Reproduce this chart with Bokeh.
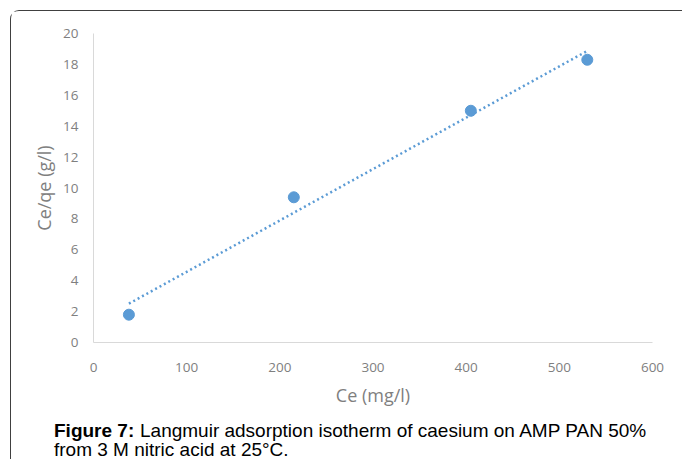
import numpy as np
from bokeh.plotting import figure
from bokeh.layouts import column, row
from bokeh.models import Range1d, FixedTicker
from bokeh.core.properties import value
from bokeh.embed import file_html
from bokeh.resources import INLINE

# data
ce = [38, 215, 405, 530]
ce_qe = [1.8, 9.4, 15.0, 18.3]
x_ticks = [0, 100, 200, 300, 400, 500, 600]
y_ticks = [0, 2, 4, 6, 8, 10, 12, 14, 16, 18, 20]
x_title = "Ce (mg/l)"
y_title = "Ce/qe (g/l)"
cap_bold = "Figure 7:"
cap_line1 = "Langmuir adsorption isotherm of caesium on AMP PAN 50%"
cap_line2 = "from 3 M nitric acid at 25°C"
cap_end = "."

BLUE = "#5B9BD5"
GRAY = "#7f7f7f"
W = 671
H = 398
X0, Y0 = 11.5, 11.5   # page position of the layout content

p = figure(width=W, height=H, output_backend="svg", toolbar_location=None,
           x_range=Range1d(0, 600), y_range=Range1d(0, 20),
           min_border_left=82, min_border_right=W - 641, min_border_top=22,
           min_border_bottom=H - 331)
p.outline_line_color = None
p.grid.grid_line_color = None

for ax in (p.xaxis[0], p.yaxis[0]):
    ax.axis_line_color = "#d9d9d9"
    ax.axis_line_width = 1
    ax.major_tick_line_color = None
    ax.minor_tick_line_color = None
    ax.major_label_text_font = "Open Sans"
    ax.major_label_text_font_size = "13.5px"
    ax.major_label_text_color = GRAY
    ax.axis_label_text_font = "Open Sans"
    ax.axis_label_text_font_size = "18px"
    ax.axis_label_text_font_style = "normal"
    ax.axis_label_text_color = GRAY

p.xaxis[0].ticker = FixedTicker(ticks=x_ticks)
p.yaxis[0].ticker = FixedTicker(ticks=y_ticks)
p.xaxis[0].axis_label = x_title
p.yaxis[0].axis_label = y_title
p.xaxis[0].major_label_standoff = 14
p.yaxis[0].major_label_standoff = 9
p.xaxis[0].axis_label_standoff = 8
p.yaxis[0].axis_label_standoff = 4

# linear trendline (least squares)
slope, intercept = np.polyfit(ce, ce_qe, 1)
tx = [min(ce), max(ce)]
ty = [slope * v + intercept for v in tx]
p.line(tx, ty, line_color=BLUE, line_width=2.5, line_dash="2 3")
p.scatter(ce, ce_qe, size=11, fill_color=BLUE, line_color=BLUE)

# caption strip (coordinates = page pixels)
CH = 50
CT = Y0 + H
c = figure(width=W, height=CH, output_backend="svg", toolbar_location=None,
           x_range=Range1d(X0, X0 + W), y_range=Range1d(CT + CH, CT),
           min_border=0, x_axis_type=None, y_axis_type=None)
c.outline_line_color = None
c.grid.grid_line_color = None
font = value("Liberation Sans")
c.text(x=[54], y=[430], text=[cap_bold], text_font=font, text_font_size="19px",
       text_font_style="bold", text_color="#000000", text_baseline="alphabetic")
c.text(x=[140], y=[430], text=[cap_line1], text_font=font, text_font_size="19px",
       text_color="#000000", text_baseline="alphabetic")
c.text(x=[54], y=[449], text=[cap_line2 + cap_end], text_font=font, text_font_size="19px",
       text_color="#000000", text_baseline="alphabetic")

layout = column(p, row(c), spacing=0)
layout.styles = {"border-left": "1.5px solid #404040", "border-top": "1.5px solid #404040",
                 "border-top-left-radius": "9px", "margin-left": "10px", "margin-top": "10px"}

open("out.html", "w").write(file_html(layout, INLINE))
